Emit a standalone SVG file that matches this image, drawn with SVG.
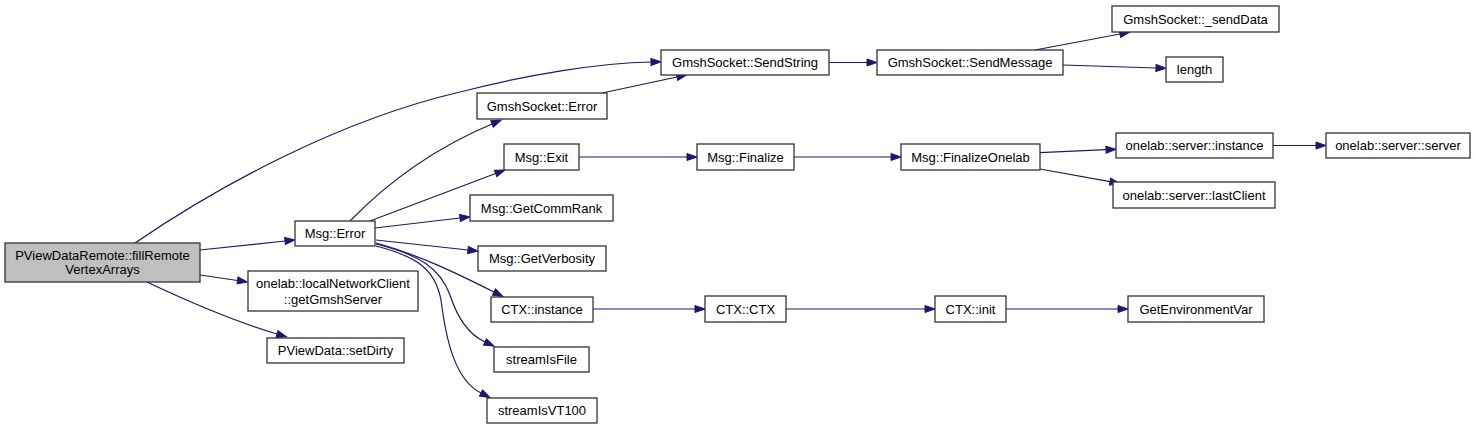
<svg xmlns="http://www.w3.org/2000/svg" width="1476" height="429" viewBox="0 0 1476 429">
<style>
.node rect{fill:#ffffff;stroke:#333333;stroke-width:1.3}
.root rect{fill:#bfbfbf}
.node text{font-family:"Liberation Sans",Arial,sans-serif;font-size:13px;fill:#000;text-anchor:middle}
.edges path{fill:none;stroke:#191970;stroke-width:1.2;marker-end:url(#arr)}
</style>
<defs>
<marker id="arr" markerUnits="userSpaceOnUse" markerWidth="11" markerHeight="8" refX="0" refY="3.5" orient="auto" overflow="visible">
<path d="M0,0 L10,3.5 L0,7 Z" fill="#191970" stroke="#191970" stroke-width="1"/>
</marker>
</defs>
<rect width="1476" height="429" fill="#ffffff"/>
<g class="edges" id="edges">
<path d="M135,243 C 220,185 340,120 460,92 C 530,74 600,63 651,62"/>
<path d="M200,250 L285,241"/>
<path d="M200,275 L237.5,280.5"/>
<path d="M147,282 C 185,300 230,320 277,334"/>
<path d="M350,221 C 385,185 430,150 492,124"/>
<path d="M370,221 L495.6,173.5"/>
<path d="M375,228 L460,218"/>
<path d="M376,240 L468,250"/>
<path d="M376,243 C 420,255 460,275 494,292"/>
<path d="M376,244 C 420,255 440,268 450,295 C 458,320 470,335 485,342"/>
<path d="M376,246 C 415,256 435,268 441,300 C 446,340 455,380 481,393"/>
<path d="M829,62.5 L867,62.5"/>
<path d="M602,93 L677,77"/>
<path d="M579,157 L687,157"/>
<path d="M794,157 L891,157"/>
<path d="M593,309 L695,309"/>
<path d="M786,309 L925,309"/>
<path d="M1006,309 L1118,309"/>
<path d="M1035,50 L1120,34"/>
<path d="M1063,65 L1156,68"/>
<path d="M1040,152.7 L1106,149.7"/>
<path d="M1040,169 L1110,181.6"/>
<path d="M1273,145.5 L1316,145.5"/>
</g>
<g class="node root" id="node0"><rect x="5" y="243" width="195" height="39"/><text x="102.5" y="259.5">PViewDataRemote::fillRemote</text><text x="102.5" y="274">VertexArrays</text></g>
<g class="node" id="node1"><rect x="295" y="221" width="80" height="25"/><text x="335" y="238">Msg::Error</text></g>
<g class="node" id="node2"><rect x="248" y="271" width="170" height="40"/><text x="333" y="288">onelab::localNetworkClient</text><text x="333" y="303.5">::getGmshServer</text></g>
<g class="node" id="node3"><rect x="267" y="338" width="137" height="25"/><text x="335.5" y="355">PViewData::setDirty</text></g>
<g class="node" id="node4"><rect x="661" y="50" width="168" height="25"/><text x="745" y="67">GmshSocket::SendString</text></g>
<g class="node" id="node5"><rect x="477" y="93" width="130" height="26"/><text x="542" y="110.5">GmshSocket::Error</text></g>
<g class="node" id="node6"><rect x="504" y="144" width="75" height="26"/><text x="541.5" y="161.5">Msg::Exit</text></g>
<g class="node" id="node7"><rect x="470" y="195" width="143" height="26"/><text x="541.5" y="212.5">Msg::GetCommRank</text></g>
<g class="node" id="node8"><rect x="478" y="246" width="128" height="25"/><text x="542" y="263">Msg::GetVerbosity</text></g>
<g class="node" id="node9"><rect x="491" y="297" width="102" height="25"/><text x="542" y="314">CTX::instance</text></g>
<g class="node" id="node10"><rect x="494" y="347" width="95" height="25"/><text x="541.5" y="364">streamIsFile</text></g>
<g class="node" id="node11"><rect x="487" y="398" width="110" height="25"/><text x="542" y="415">streamIsVT100</text></g>
<g class="node" id="node12"><rect x="877" y="50" width="186" height="25"/><text x="970" y="67">GmshSocket::SendMessage</text></g>
<g class="node" id="node13"><rect x="697" y="144" width="97" height="26"/><text x="745.5" y="161.5">Msg::Finalize</text></g>
<g class="node" id="node14"><rect x="705" y="296" width="81" height="26"/><text x="745.5" y="313.5">CTX::CTX</text></g>
<g class="node" id="node15"><rect x="1112" y="6" width="167" height="26"/><text x="1195.5" y="23.5">GmshSocket::_sendData</text></g>
<g class="node" id="node16"><rect x="1166" y="57" width="57" height="25"/><text x="1194.5" y="74">length</text></g>
<g class="node" id="node17"><rect x="901" y="144" width="139" height="26"/><text x="970.5" y="161.5">Msg::FinalizeOnelab</text></g>
<g class="node" id="node18"><rect x="935" y="296" width="71" height="26"/><text x="970.5" y="313.5">CTX::init</text></g>
<g class="node" id="node19"><rect x="1116" y="133" width="157" height="25"/><text x="1194.5" y="150">onelab::server::instance</text></g>
<g class="node" id="node20"><rect x="1113" y="182" width="162" height="26"/><text x="1194" y="199.5">onelab::server::lastClient</text></g>
<g class="node" id="node21"><rect x="1128" y="296" width="136" height="26"/><text x="1196" y="313.5">GetEnvironmentVar</text></g>
<g class="node" id="node22"><rect x="1326" y="133" width="144" height="25"/><text x="1398" y="150">onelab::server::server</text></g>
</svg>
